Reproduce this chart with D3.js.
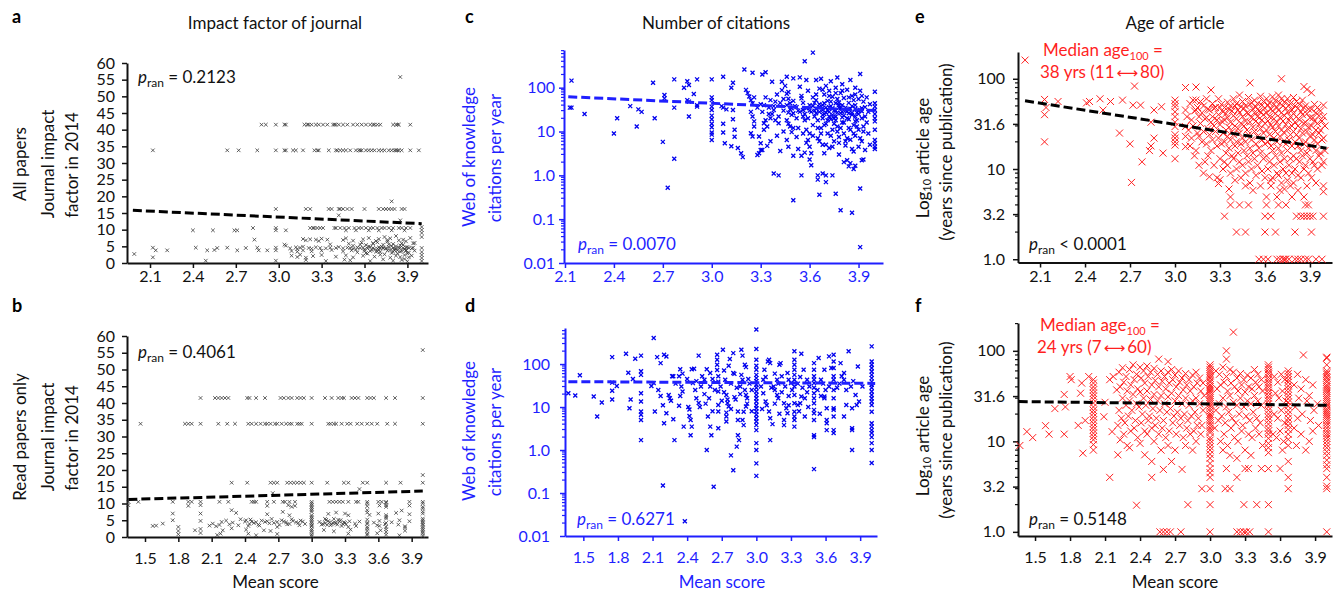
<!DOCTYPE html>
<html>
<head>
<meta charset="utf-8">
<script src="https://cdn.jsdelivr.net/npm/d3@7"></script>
<style>
    body { margin: 0; background: #fff; }
    svg { font-family: Lato, "Open Sans", "DejaVu Sans", sans-serif; }
</style>
</head>
<body>
<div id="chart"></div>
<script>

// ---- tick labels ----
const scoreTicksAll = [2.1, 2.4, 2.7, 3.0, 3.3, 3.6, 3.9];
const scoreTicksRead = [1.5, 1.8, 2.1, 2.4, 2.7, 3.0, 3.3, 3.6, 3.9];
const impactTicks = [0, 5, 10, 15, 20, 25, 30, 35, 40, 45, 50, 55, 60];
const impactTickLabels = ['0', '5', '10', '15', '20', '25', '30', '35', '40', '45', '50', '55', '60'];
const citeTicks = [0.01, 0.1, 1, 10, 100];
const citeTickLabels = ['0.01', '0.1', '1.0', '10', '100'];
const ageTicks = [1, 3.162, 10, 31.62, 100];
const ageTickLabels = ['1.0', '3.2', '10', '31.6', '100'];

// ---- p values and medians ----
const pValues = ['= 0.2123', '= 0.4061', '= 0.0070', '= 0.6271', '< 0.0001', '= 0.5148'];
const medianAll = ['38 yrs (11', '80)'];
const medianRead = ['24 yrs (7', '60)'];

// ---- fitted trend lines, [score, value] at each end ----
const fitImpactAll = [[1.98, 15.8], [4.0, 11.8]];
const fitImpactRead = [[1.35, 11.2], [4.0, 13.7]];
const fitCiteAll = [[2.12, 62], [4.0, 30]];
const fitCiteRead = [[1.37, 39], [4.03, 35.5]];
const fitAgeAll = [[2.0, 57], [4.01, 17]];
const fitAgeRead = [[1.36, 27.5], [4.03, 25]];

// ---- a: all papers, [mean score, journal impact factor] ----
const impactAll = [
    [3.85,55.8],
    [2.88,41.5],[2.91,41.5],[2.98,41.5],[3.04,41.5],[3.05,41.5],[3.18,41.5],[3.20,41.5],[3.21,41.5],[3.23,41.5],[3.26,41.5],[3.28,41.5],[3.31,41.5],[3.34,41.5],[3.38,41.5],[3.39,41.5],[3.40,41.5],[3.42,41.5],[3.45,41.5],[3.48,41.5],[3.52,41.5],[3.55,41.5],[3.58,41.5],[3.61,41.5],[3.64,41.5],[3.66,41.5],[3.67,41.5],[3.69,41.5],[3.71,41.5],[3.80,41.5],[3.82,41.5],[3.83,41.5],[3.84,41.5],[3.92,41.5],
    [2.12,33.8],[2.64,33.8],[2.72,33.8],[2.85,33.8],[2.98,33.8],[3.04,33.8],[3.05,33.8],[3.10,33.8],[3.12,33.8],[3.17,33.8],[3.25,33.8],[3.27,33.8],[3.28,33.8],[3.35,33.8],[3.40,33.8],[3.41,33.8],[3.43,33.8],[3.45,33.8],[3.47,33.8],[3.50,33.8],[3.54,33.8],[3.56,33.8],[3.57,33.8],[3.58,33.8],[3.61,33.8],[3.63,33.8],[3.65,33.8],[3.67,33.8],[3.70,33.8],[3.72,33.8],[3.74,33.8],[3.77,33.8],[3.79,33.8],[3.81,33.8],[3.82,33.8],[3.83,33.8],[3.84,33.8],[3.86,33.8],[3.92,33.8],[3.98,33.8],
    [3.79,18.5],[3.42,14.3],[3.85,12.8],
    [2.98,16.2],[3.19,16.2],[3.22,16.2],[3.35,16.2],[3.37,16.2],[3.42,16.2],[3.43,16.2],[3.45,16.2],[3.48,16.2],[3.51,16.2],[3.60,16.2],[3.70,16.2],[3.73,16.2],[3.75,16.2],[3.77,16.2],[3.79,16.2],[3.81,16.2],[3.86,16.2],[3.88,16.2],
    [2.82,10.5],[2.98,10.5],[3.22,10.5],[3.24,10.5],[3.25,10.5],[3.27,10.5],[3.29,10.5],[3.31,10.5],[3.39,10.5],[3.40,10.5],[3.43,10.5],[3.46,10.5],[3.49,10.5],[3.53,10.5],[3.56,10.5],[3.58,10.5],[3.61,10.5],[3.64,10.5],[3.66,10.5],[3.69,10.5],[3.72,10.5],[3.74,10.5],[3.77,10.5],[3.80,10.5],[3.84,10.5],[3.86,10.5],[3.89,10.5],[3.92,10.5],[4.0,10.8],
    [2.40,9.8],[2.54,9.8],[2.69,9.8],[2.71,9.8],[2.98,9.8],[3.05,9.8],[3.47,9.8],[3.54,9.8],[3.63,9.8],[3.70,9.8],[3.79,9.8],[3.88,9.8],[4.0,9.9],[4.0,9.0],
    [2.83,7.0],[3.17,7.2],[3.19,6.8],[3.22,7.1],[3.26,7.0],[3.28,6.6],[3.30,7.3],[3.34,7.0],[3.45,6.9],[3.47,7.4],[3.52,6.7],[3.59,7.1],[3.63,7.5],[3.68,6.6],[3.70,7.2],[3.74,7.8],[3.76,6.9],[3.78,7.4],[3.82,8.1],[3.87,7.0],[3.89,6.5],[4.0,7.8],
    [3.04,5.5],[3.05,5.2],[3.36,5.6],[3.49,5.8],[3.61,5.4],[3.66,5.9],[3.73,5.5],[3.80,5.7],[3.85,5.3],
    [2.12,4.6],[2.42,4.6],[2.57,4.5],[2.64,4.6],[2.77,4.5],[2.85,4.6],[2.98,4.6],[3.08,4.4],[3.12,4.7],[3.13,4.2],[3.15,4.6],[3.17,4.9],[3.21,4.5],[3.23,4.3],[3.26,4.7],[3.29,4.5],[3.33,4.4],[3.36,4.6],[3.40,4.5],[3.42,4.8],[3.45,4.4],[3.48,4.6],[3.50,4.5],[3.52,4.3],[3.55,4.7],[3.57,4.5],[3.59,4.6],[3.62,4.4],[3.64,4.8],[3.66,4.5],[3.69,4.3],[3.70,4.7],[3.71,4.5],[3.73,4.6],[3.75,4.4],[3.77,4.8],[3.80,4.5],[3.82,4.3],[3.84,4.6],[3.87,4.5],[3.89,4.7],[3.91,4.5],[3.94,4.6],[4.0,4.5],
    [2.14,3.8],[2.22,3.8],[2.50,3.8],[2.55,3.9],[2.71,3.8],[2.86,3.8],[2.92,3.8],[2.98,3.8],[3.09,3.6],[3.13,3.4],[3.17,3.8],[3.23,3.5],[3.30,3.7],[3.37,3.9],[3.45,3.5],[3.51,3.8],[3.60,3.6],[3.65,3.9],[3.69,3.5],[3.76,3.7],[3.81,3.8],[3.85,3.4],[3.89,3.6],[4.0,3.3],
    [2.12,1.7],[3.09,2.2],[3.13,1.8],[3.15,2.5],[3.19,1.6],[3.24,2.1],[3.30,2.4],[3.40,1.9],[3.47,2.3],[3.52,1.7],[3.59,2.2],[3.67,1.9],[3.71,2.5],[3.78,1.6],[3.82,2.2],[3.85,1.8],[3.88,2.4],[3.91,1.7],[4.0,2.4],[4.0,1.5],
    [1.99,2.7],[2.49,0.7],[2.98,0.7],[3.19,0.9],[3.33,0.6],[3.46,1.0],[3.50,0.8],[3.64,0.6],[3.73,1.1],[3.80,0.7],[3.86,0.9],[3.90,0.5],[4.0,0.6],
    [3.52,5.2],[3.55,3.2],[3.58,6.1],[3.62,2.8],[3.66,5.8],[3.68,3.4],[3.72,4.9],[3.74,2.6],[3.76,6.4],[3.78,3.9],[3.79,5.1],[3.81,4.2],[3.83,2.9],[3.84,6.8],[3.86,3.6],[3.87,5.4],[3.88,1.2],[3.90,4.8],[3.91,3.1],[3.92,7.5],[3.93,2.2],[3.94,5.9],[3.95,3.7],[3.60,4.1],[3.64,3.6],[3.70,4.0],[3.75,4.3],[3.80,3.4],[3.85,4.6],[3.89,3.9],
    [3.54,4.0],[3.57,5.5],[3.61,3.0],[3.63,5.0],[3.67,4.2],[3.69,6.2],[3.71,3.3],[3.73,4.4],[3.77,5.6],[3.79,3.0],[3.82,5.0],[3.83,3.8],[3.86,5.9],[3.88,4.1],[3.90,2.9],[3.93,4.4],[3.95,6.0]
];

// ---- b: read papers, [mean score, journal impact factor] ----
const impactRead = [
    [4.0,55.8],[4.0,18.5],[3.43,14.3],[2.65,13.1],
    [2.00,41.5],[2.13,41.5],[2.16,41.5],[2.19,41.5],[2.22,41.5],[2.25,41.5],[2.42,41.5],[2.44,41.5],[2.50,41.5],[2.58,41.5],[2.72,41.5],[2.75,41.5],[2.79,41.5],[2.82,41.5],[2.87,41.5],[2.90,41.5],[2.93,41.5],[3.00,41.5],[3.12,41.5],[3.18,41.5],[3.24,41.5],[3.27,41.5],[3.29,41.5],[3.36,41.5],[3.39,41.5],[3.42,41.5],[3.50,41.5],[3.53,41.5],[3.56,41.5],[3.67,41.5],[3.75,41.5],[4.00,41.5],
    [1.46,33.8],[1.86,33.8],[1.89,33.8],[1.92,33.8],[2.00,33.8],[2.16,33.8],[2.24,33.8],[2.31,33.8],[2.43,33.8],[2.46,33.8],[2.50,33.8],[2.54,33.8],[2.58,33.8],[2.60,33.8],[2.63,33.8],[2.67,33.8],[2.69,33.8],[2.73,33.8],[2.77,33.8],[2.80,33.8],[2.82,33.8],[2.87,33.8],[2.89,33.8],[2.91,33.8],[3.00,33.8],[3.15,33.8],[3.17,33.8],[3.20,33.8],[3.22,33.8],[3.27,33.8],[3.32,33.8],[3.35,33.8],[3.41,33.8],[3.45,33.8],[3.50,33.8],[3.54,33.8],[3.59,33.8],[3.68,33.8],[3.75,33.8],[4.00,33.8],
    [2.28,16.2],[2.42,16.2],[2.63,16.2],[2.66,16.2],[2.69,16.2],[2.78,16.2],[2.81,16.2],[2.84,16.2],[2.87,16.2],[2.90,16.2],[2.93,16.2],[3.00,16.2],[3.14,16.2],[3.29,16.2],[3.33,16.2],[3.46,16.2],[3.50,16.2],[3.67,16.2],[3.80,16.2],[4.00,16.2],
    [1.35,10.5],[1.44,10.5],[1.75,10.5],[1.89,10.5],[1.92,10.5],[2.00,10.5],[2.17,10.5],[2.25,10.5],[2.46,10.5],[2.48,10.5],[2.50,10.5],[2.60,10.5],[2.66,10.5],[2.74,10.5],[2.76,10.5],[2.80,10.5],[2.85,10.5],[3.00,10.5],[3.16,10.5],[3.19,10.5],[3.22,10.5],[3.25,10.5],[3.28,10.5],[3.33,10.5],[3.40,10.5],[3.42,10.5],[3.50,10.5],[3.60,10.5],[3.63,10.5],[3.67,10.5],[3.88,10.5],[4.00,10.5],
    [1.35,9.5],[1.89,9.3],[2.00,9.5],[2.60,9.3],[2.79,9.5],[2.82,9.0],[2.85,9.3],[3.00,9.0],[3.50,9.2],[3.61,9.4],[3.67,9.0],[3.88,9.4],
    [1.75,7.0],[2.00,7.0],[2.28,8.0],[2.32,7.2],[2.60,6.8],[2.74,7.5],[2.80,6.5],[3.00,7.5],[3.00,8.0],[3.15,6.9],[3.22,7.3],[3.30,7.0],[3.33,6.5],[3.50,7.3],[3.52,6.6],[3.60,7.0],[3.67,6.5],[3.76,7.2],[3.81,7.9],[3.88,6.8],[4.00,7.6],[4.00,7.0],
    [1.75,5.0],[2.00,4.8],[2.11,4.0],[2.19,4.5],[2.23,4.9],[2.29,4.3],[2.36,5.3],[2.41,5.0],[2.46,4.6],[2.50,4.4],[2.55,4.9],[2.60,4.7],[2.64,5.4],[2.69,4.5],[2.73,5.0],[2.77,4.4],[2.83,4.8],[2.88,4.2],[2.92,4.6],[3.00,5.0],[3.07,4.5],[3.12,5.4],[3.15,4.8],[3.19,4.2],[3.24,5.1],[3.29,4.4],[3.34,4.7],[3.39,4.0],[3.43,4.6],[3.50,5.2],[3.56,4.3],[3.61,4.8],[3.67,5.5],[3.72,4.4],[3.79,5.0],[3.88,4.7],[4.00,4.5],
    [1.57,3.3],[1.60,3.4],[1.66,4.0],[2.08,3.4],[2.17,3.6],[2.26,3.8],[2.34,3.5],[2.44,3.9],[2.53,3.4],[2.62,4.1],[2.71,3.6],[2.80,3.9],[2.89,3.5],[3.00,4.0],[3.09,3.7],[3.17,3.5],[3.22,4.1],[3.31,3.8],[3.40,3.3],[3.50,3.9],[3.59,3.5],[3.66,3.9],[3.78,3.7],[3.84,3.2],[4.00,3.6],
    [1.80,3.0],[2.14,3.2],[2.43,3.3],[2.69,3.0],[3.00,3.2],[3.27,3.3],[3.33,3.0],[3.61,3.3],[3.84,2.8],
    [1.80,1.8],[1.95,2.0],[2.00,2.4],[2.20,2.0],[2.28,2.6],[2.41,2.2],[2.57,2.0],[2.63,1.8],[3.00,2.0],[3.11,2.1],[3.20,1.7],[3.35,2.2],[3.50,1.8],[3.62,2.0],[3.67,2.3],[3.84,1.9],[4.00,2.0],
    [1.80,0.8],[2.00,1.2],[2.15,0.6],[2.18,1.0],[2.43,1.0],[2.50,0.5],[2.69,0.9],[3.00,0.8],[3.00,0.3],[3.33,1.0],[3.50,0.6],[3.59,1.1],[3.67,0.7],[3.79,0.5],[4.00,1.0],[4.00,0.3],
    [3.00,1.5],[3.00,2.5],[3.00,3.5],[3.00,4.5],[3.00,5.5],[3.00,6.0],[3.00,6.5],[3.00,8.5],[3.00,9.5],[3.00,10.0],
    [4.00,1.5],[4.00,2.5],[4.00,3.0],[4.00,4.0],[4.00,5.0],[4.00,5.5],[4.00,8.5],[4.00,9.0],[4.00,10.0],
    [3.50,1.0],[3.50,2.5],[3.50,3.0],[3.50,4.3],[3.50,8.0],[3.50,10.0],
    [3.67,1.5],[3.67,3.0],[3.67,4.2],[3.67,6.0],[3.67,9.5],[3.67,10.2],
    [3.10,3.9],[3.12,4.1],[3.13,5.1],[3.14,3.6],[3.16,4.4],[3.18,3.8],[3.20,5.4],[3.21,4.3],[3.23,3.7],[3.25,4.6],[3.26,5.0],[3.28,3.9],[3.30,4.2],
    [2.40,4.6],[2.45,5.2],[2.48,4.2],[2.52,3.7],[2.58,4.5],[2.66,4.2],[2.75,4.6],[2.78,3.8],[2.82,5.3],[2.86,4.4],[2.90,4.9],[2.94,3.9]
];

// ---- c: all papers, [mean score, citations per year] ----
const citesAll = [
    [2.14,145],[2.13,35],[2.14,35],[2.22,25],[2.40,9],[2.42,20],[2.50,38],[2.54,13],[2.55,32],[2.57,28],[2.64,130],[2.65,20],[2.70,5.8],[2.71,68],[2.71,57],[2.73,0.52],[2.77,2.4],[2.77,35],[2.77,155],[2.83,100],[2.85,140],[2.86,115],[2.85,52],[2.86,22],[2.86,48],[2.89,72],[2.91,155],[2.91,40],[2.91,37],
    [3.0,155],[3.0,60],[3.0,52],[3.0,37],[3.0,31],[3.0,23],[3.0,19],[3.0,15],[3.0,12.5],[3.0,9.5],[3.0,8.5],[3.0,6.4],
    [3.07,178],[3.06,38],[3.07,35],[3.09,32],[3.07,15],[3.07,9.5],[3.08,5.4],[3.12,100],[3.13,130],[3.13,31],[3.13,19],[3.14,11],[3.14,7.6],[3.12,4.6],[3.16,4.2],[3.18,3.2],[3.19,2.6],
    [3.20,260],[3.25,220],[3.31,200],[3.33,225],[3.57,400],[3.62,630],[3.91,205],
    [3.21,89],[3.22,75],[3.23,63],[3.24,52],[3.25,44],[3.24,28],[3.25,22],[3.26,17],[3.26,13],[3.24,9.1],[3.25,7.7],[3.29,7.7],[3.30,5.4],[3.29,3.2],[3.28,2.9],[3.30,3.8],[3.31,3.8],
    [3.32,15.5],[3.33,18],[3.34,13],[3.32,11],[3.30,42],[3.32,40],[3.36,52],[3.39,48],[3.38,31],[3.36,20],[3.39,18],[3.41,15.5],[3.38,1.1],[3.41,1.0],[3.37,137],[3.43,137],
    [3.43,88],[3.46,73],[3.47,56],[3.48,44],[3.49,34],[3.46,178],[3.50,163],[3.54,172],
    [3.47,27],[3.49,24],[3.46,18],[3.48,13],[3.49,9.7],[3.46,6.4],[3.47,4.5],[3.50,2.8],[3.50,0.27],[3.55,1.0],
    [3.54,105],[3.55,57],[3.56,31],[3.57,18],[3.58,11],[3.59,6.4],[3.60,4.5],[3.61,3.2],[3.61,1.7],[3.60,2.3],[3.55,2.8],[3.66,0.36],[3.65,1.0],[3.65,0.8],[3.68,1.1],[3.70,0.7],[3.70,1.0],[3.74,1.0],[3.76,0.38],[3.79,0.16],[3.86,0.14],[3.87,1.4],[3.88,1.65],[3.81,2.0],[3.84,1.6],[3.83,2.2],[3.85,1.9],[3.93,2.3],[3.92,2.2],[3.91,0.5],[3.91,0.023],
    [4.0,81],[4.0,44],[4.0,37],[4.0,31],[4.0,25],[4.0,20],[4.0,17],[4.0,11],[4.0,6.4],[4.0,5.4],[4.0,4.5],[4.0,4.0],
    [3.33,60],[3.35,35],[3.37,25],[3.40,70],[3.42,45],[3.44,30],[3.45,110],[3.47,80],[3.50,50],[3.51,38],[3.52,20],[3.53,12],[3.55,65],[3.56,45],[3.57,25],[3.58,150],[3.59,85],[3.60,40],[3.61,28],[3.62,14],[3.60,9],[3.58,5.5],[3.52,7.5],[3.44,10],[3.40,8],[3.36,6],[3.34,4.7],[3.42,3.6],[3.53,4],[3.57,3.3],
    [3.62,60],[3.63,45],[3.63,22],[3.64,150],[3.64,33],[3.65,18],[3.65,7],[3.66,95],[3.66,28],[3.67,12],[3.67,160],[3.68,40],[3.68,5],[3.69,70],[3.69,25],[3.69,3.2],[3.70,110],[3.70,35],[3.70,15],[3.71,50],[3.71,9],[3.72,85],[3.72,28],[3.72,4.2],[3.73,140],[3.73,38],[3.73,19],[3.74,62],[3.74,11],[3.75,30],[3.75,6],[3.76,100],[3.76,44],[3.76,22],[3.77,170],[3.77,55],[3.77,13],[3.78,35],[3.78,7.5],[3.78,3],[3.79,75],[3.79,26],[3.80,120],[3.80,40],[3.80,16],[3.81,9],[3.81,58],[3.82,30],[3.82,4.8],[3.83,90],[3.83,20],[3.84,45],[3.84,12],[3.85,150],[3.85,33],[3.85,6.5],[3.86,65],[3.86,24],[3.87,14],[3.87,3.5],[3.88,100],[3.88,40],[3.88,8],[3.89,27],[3.89,18],[3.90,55],[3.90,11],[3.91,85],[3.91,31],[3.92,6],[3.92,20],[3.93,48],[3.93,13],[3.94,36],[3.94,3.8],[3.95,60],[3.95,16],[3.96,28],[3.96,9],[3.97,42],[3.97,5],
    [3.64,52],[3.66,36],[3.68,24],[3.71,31],[3.73,48],[3.75,20],[3.77,27],[3.79,34],[3.81,23],[3.83,29],[3.86,38],[3.88,22],[3.90,30],[3.92,34],[3.63,30],[3.69,44],[3.74,34],[3.78,46],[3.84,26],[3.87,52],
    [3.46,40],[3.48,32],[3.50,26],[3.52,36],[3.54,28],[3.56,22],[3.58,34],[3.60,30],[3.62,38],[3.64,26],[3.66,42],[3.68,31],[3.70,27],[3.72,36],[3.74,24],[3.76,30],[3.78,40],[3.80,28],[3.82,35],[3.84,32],[3.86,27],[3.88,33],[3.90,25],[3.92,29],[3.94,22],
    [3.65,12],[3.67,9],[3.69,14],[3.71,18],[3.73,8],[3.75,15],[3.77,10],[3.79,12],[3.81,16],[3.83,7],[3.85,11],[3.87,9],[3.89,13],[3.91,7],[3.93,10],
    [3.62,8],[3.66,6],[3.70,5],[3.74,4.5],[3.78,5.5],[3.82,6],[3.86,4],[3.90,4.5],[3.68,20],[3.72,22],[3.76,18],[3.80,21],[3.84,19],[3.88,17],
    [3.64,70],[3.68,90],[3.72,65],[3.76,75],[3.80,85],[3.84,60],[3.88,70],[3.92,65],
    [3.35,25],[3.38,38],[3.41,22],[3.44,55],[3.47,15],[3.50,12],[3.53,30],[3.56,9],[3.59,20],[3.31,28],[3.28,35],[3.26,60]
];

// ---- d: read papers, [mean score, citations per year] ----
const citesRead = [
    [1.37,21],[1.43,18.5],[1.47,55],[1.59,17.6],[1.62,6],[1.66,12.7],[1.75,145],[1.75,37],[1.75,24],[1.75,15],[1.79,31],[1.87,174],[1.89,63],[1.90,9.4],[1.91,15],[1.93,45],[1.95,133],
    [2.0,157],[2.0,68],[2.0,56],[2.0,21],[2.0,13.4],[2.0,7.9],[2.0,6.6],[2.0,5.0],[2.0,1.7],
    [2.11,405],[2.09,31],[2.11,36],[2.12,7.9],[2.14,145],[2.15,25],[2.17,18],[2.17,105],[2.20,165],[2.22,150],[2.19,11],[2.20,4.2],[2.19,0.15],[2.22,7.2],[2.24,19],[2.25,16],[2.26,14],[2.27,52],[2.28,52],[2.28,5.2],[2.29,1.7],
    [2.33,52],[2.34,76],[2.35,30],[2.36,23],[2.33,10.7],[2.34,18],[2.37,3.5],[2.41,10],[2.42,8.8],[2.42,6.2],[2.43,5],[2.44,3.5],[2.43,2.2],[2.44,76],[2.46,78],[2.45,36],[2.47,25],[2.48,16],[2.50,12.4],[2.51,10],[2.50,157],[2.53,52],[2.55,43],[2.57,76],[2.60,62],[2.57,1.0],[2.63,0.14],[2.58,6],[2.60,3.5],[2.61,2.2],[2.59,16],[2.60,30],
    [2.66,165],[2.66,126],[2.66,96],[2.66,73],[2.67,52],[2.67,39],[2.67,23],[2.67,11.2],[2.67,7.9],[2.67,3.2],
    [2.71,215],[2.72,71],[2.73,43],[2.74,19],[2.75,15],[2.75,12.4],[2.76,10.3],[2.74,7.4],[2.74,6.0],[2.74,4.6],[2.78,0.75],[2.80,0.34],[2.80,180],[2.77,131],[2.76,91],[2.80,62],[2.81,59],[2.81,17],[2.82,15],[2.84,7.9],[2.84,5],[2.84,2.2],[2.85,1.7],[2.83,1.2],
    [2.87,215],[2.88,157],[2.90,96],[2.91,85],[2.87,56],[2.88,43],[2.90,25],[2.91,19],[2.92,16],[2.91,10.3],[2.89,7.8],[2.88,5],[2.89,3.8],[2.92,12],[2.86,30],[2.94,35],
    [3.0,635],[3.0,224],[3.0,126],[3.0,91],[3.0,74],[3.0,56],[3.0,47],[3.0,40],[3.0,33],[3.0,28],[3.0,23],[3.0,19],[3.0,16],[3.0,13.4],[3.0,11],[3.0,9.4],[3.0,7.9],[3.0,6.6],[3.0,5.5],[3.0,4.6],[3.0,3.8],[3.0,2.9],[3.0,1.45],[3.0,1.0],[3.0,0.49],[3.0,0.25],
    [3.06,43],[3.07,74],[3.10,115],[3.11,126],[3.12,105],[3.06,21],[3.08,13.4],[3.09,11],[3.11,7.9],[3.12,5.5],[3.14,4.0],[3.12,1.7],
    [3.15,30],[3.16,25],[3.18,19],[3.19,16],[3.18,43],[3.21,105],[3.20,96],[3.22,52],[3.24,12.3],[3.26,9.4],[3.27,7.2],[3.24,5.0],[3.24,3.8],[3.27,62],[3.28,43],[3.30,36],
    [3.33,198],[3.33,126],[3.33,96],[3.33,74],[3.33,56],[3.33,43],[3.33,30],[3.33,19],[3.33,12.3],[3.33,7.8],[3.33,6.0],[3.33,5.0],[3.33,3.5],
    [3.36,11.2],[3.38,12.3],[3.39,17.6],[3.41,74],[3.39,174],[3.42,16],[3.42,6.0],[3.44,43],
    [3.5,105],[3.5,74],[3.5,52],[3.5,43],[3.5,36],[3.5,28],[3.5,21],[3.5,16],[3.5,12.3],[3.5,8.6],[3.5,7.2],[3.5,5.0],[3.5,2.2],[3.5,2.0],[3.5,0.36],
    [3.54,138],[3.56,43],[3.59,74],[3.59,17.6],[3.59,16],[3.60,25],[3.61,9.4],[3.61,5.0],[3.61,4.2],[3.61,2.9],
    [3.67,165],[3.67,115],[3.67,81],[3.67,52],[3.67,43],[3.67,25],[3.67,16],[3.67,9.4],[3.67,8.6],[3.67,6.0],[3.67,2.9],[3.67,2.5],
    [3.63,151],[3.65,81],[3.73,105],[3.74,52],[3.76,62],[3.76,43],[3.76,6.0],[3.78,11.2],
    [3.80,198],[3.82,30],[3.83,9.4],[3.83,3.2],[3.83,2.9],[3.83,1.0],[3.86,19],[3.87,11.2],[3.88,88],[3.89,13.4],
    [4.0,258],[4.0,115],[4.0,96],[4.0,81],[4.0,67],[4.0,56],[4.0,47],[4.0,39],[4.0,33],[4.0,28],[4.0,23],[4.0,19],[4.0,16],[4.0,13.4],[4.0,11.2],[4.0,7.8],[4.0,4.2],[4.0,3.5],[4.0,2.9],[4.0,2.5],[4.0,2.0],[4.0,1.45],[4.0,1.0],[4.0,0.5],
    [2.38,0.022],
    [2.48,40],[2.52,30],[2.55,20],[2.62,45],[2.64,25],[2.69,30],[2.72,22],[2.78,35],[2.83,28],[2.86,20],[2.93,45],[2.96,25],[3.04,30],[3.08,50],[3.13,28],[3.16,60],[3.19,35],[3.22,22],[3.25,30],[3.28,18],[3.31,25],[3.36,35],[3.38,50],[3.40,28],[3.44,22],[3.46,30],[3.53,25],[3.56,18],[3.58,35],[3.63,30],[3.70,28],[3.72,35],[3.78,25],[3.84,40],[3.92,30],[2.40,45],[2.36,60],[2.30,35],
    [2.56,12],[2.62,8],[2.70,14],[2.78,9],[2.96,8],[3.05,9],[3.16,12],[3.20,7],[3.28,11],[3.37,8],[3.45,10],[3.55,7]
];

// ---- e: all papers, [mean score, article age in years] ----
const ageAll = [
    [2.00,161],[2.13,59],[2.13,40],[2.13,20],[2.14,48],[2.22,56],[2.41,54],[2.43,56],[2.50,60],[2.52,45],[2.57,56],[2.63,25],[2.65,58],[2.70,19],[2.71,7.1],[2.73,83],[2.72,51],[2.77,51],[2.78,12],[2.84,33],[2.86,45],[2.83,16],[2.84,18],[2.86,22],[2.91,49],[2.92,15],
    [3.00,58],[3.00,53],[3.00,49],[3.00,43],[3.00,38],[3.00,33],[3.00,29.5],[3.00,24],[3.00,22],[3.00,20],[3.00,18.4],[3.00,13],
    [3.07,80],[3.07,45],[3.08,38],[3.07,29.5],[3.07,23],[3.07,17.7],[3.14,81],[3.14,58],[3.14,45],[3.16,23],[3.24,75],[3.50,90],[3.71,100],[3.86,82],[3.88,76],[3.91,70],[3.99,51],
    [3.37,4.9],[3.37,4.0],[3.43,4.0],[3.49,4.0],[3.61,4.9],[3.61,4.0],[3.68,4.9],[3.69,4.0],[3.74,4.0],[3.78,4.9],[3.86,4.9],[3.87,4.0],[3.89,4.0],
    [3.33,3.0],[3.60,3.0],[3.64,3.0],[3.81,3.0],[3.84,3.0],[3.86,3.0],[3.88,3.0],[3.90,3.0],[3.92,3.0],[3.99,3.0],
    [3.41,2.0],[3.47,2.0],[3.60,2.0],[3.67,2.0],[3.80,2.0],[3.91,2.0],
    [3.56,1.0],[3.59,1.0],[3.62,1.0],[3.68,1.0],[3.70,1.0],[3.72,1.0],[3.73,1.0],[3.74,1.0],[3.76,1.0],[3.80,1.0],[3.82,1.0],[3.84,1.0],[3.87,1.0],[3.89,1.0],[3.94,1.0],[3.98,1.0],
    [3.23,8.2],[3.29,6.9],[3.30,7.6],[3.47,6.5],[3.52,5.8],[3.57,6.5],[3.64,6.5],[3.70,5.8],[3.77,6.5],[3.82,5.8],[3.88,6.5],[3.99,6.5],[3.99,5.6],
    [3.10,53],[3.11,35],[3.09,27],[3.10,18],
    [3.12,58],[3.13,44],[3.12,30],[3.11,22],[3.13,14],
    [3.15,48],[3.16,38],[3.15,25],[3.14,16],[3.16,11],
    [3.17,56],[3.18,42],[3.17,32],[3.18,20],
    [3.19,50],[3.20,36],[3.19,26],[3.20,12],[3.19,9],
    [3.21,60],[3.22,46],[3.21,37],[3.22,28],[3.21,19],[3.22,14],
    [3.23,45],[3.24,33],[3.23,24],
    [3.25,53],[3.26,47],[3.25,38],[3.26,30],[3.25,21],[3.24,16],[3.26,11],
    [3.27,48],[3.28,35],[3.27,26],[3.28,18],
    [3.29,60],[3.30,48],[3.29,40],[3.30,31],[3.29,22],[3.30,13],[3.28,8],
    [3.31,52],[3.32,43],[3.31,34],[3.32,25],[3.31,19],[3.32,10],
    [3.33,48],[3.34,41],[3.33,35],[3.34,27],[3.33,20],[3.34,15],[3.33,12],
    [3.35,55],[3.36,46],[3.35,37],[3.36,29],[3.35,23],[3.36,17],[3.35,11],[3.36,6],
    [3.37,50],[3.38,44],[3.37,33],[3.38,26],[3.37,21],[3.38,14],[3.37,9],
    [3.39,60],[3.40,50],[3.39,39],[3.40,30],[3.39,24],[3.40,18],[3.39,13],[3.40,7.5],
    [3.41,53],[3.42,45],[3.41,36],[3.42,28],[3.41,20],[3.42,15],[3.41,10],
    [3.43,66],[3.44,49],[3.43,42],[3.44,32],[3.43,25],[3.44,19],[3.43,12],[3.44,8],
    [3.45,56],[3.46,47],[3.45,38],[3.46,30],[3.45,22],[3.46,16],[3.45,11],
    [3.47,50],[3.48,42],[3.47,34],[3.48,27],[3.47,20],[3.48,14],[3.47,9],
    [3.49,62],[3.50,52],[3.49,41],[3.50,33],[3.49,24],[3.50,17],[3.49,12],[3.50,7],
    [3.51,54],[3.52,46],[3.51,37],[3.52,29],[3.51,21],[3.52,15],[3.51,10],
    [3.53,58],[3.54,49],[3.53,42],[3.54,34],[3.53,26],[3.54,19],[3.53,13],[3.54,8.5],
    [3.55,53],[3.56,44],[3.55,38],[3.56,31],[3.55,23],[3.56,17],[3.55,11],
    [3.57,64],[3.58,51],[3.57,43],[3.58,35],[3.57,28],[3.58,21],[3.57,15],[3.58,9.5],
    [3.59,56],[3.60,47],[3.59,40],[3.60,32],[3.59,25],[3.60,19],[3.59,13],[3.60,8],
    [3.61,60],[3.62,51],[3.61,42],[3.62,34],[3.61,27],[3.62,20],[3.61,14],[3.62,10],
    [3.63,54],[3.64,46],[3.63,38],[3.64,31],[3.63,24],[3.64,18],[3.63,12],[3.64,7.5],
    [3.65,63],[3.66,52],[3.65,44],[3.66,36],[3.65,29],[3.66,22],[3.65,16],[3.66,11],[3.65,8],
    [3.67,57],[3.68,48],[3.67,41],[3.68,33],[3.67,26],[3.68,20],[3.67,14],[3.68,9],
    [3.69,66],[3.70,54],[3.69,45],[3.70,37],[3.69,30],[3.70,23],[3.69,17],[3.70,12],[3.69,8.5],
    [3.71,60],[3.72,50],[3.71,42],[3.72,34],[3.71,27],[3.72,20],[3.71,15],[3.72,10],[3.71,7],
    [3.73,55],[3.74,47],[3.73,39],[3.74,31],[3.73,25],[3.74,19],[3.73,13],[3.74,9],[3.73,6],
    [3.75,60],[3.76,51],[3.75,43],[3.76,35],[3.75,28],[3.76,21],[3.75,16],[3.76,11],[3.75,7.5],
    [3.77,53],[3.78,45],[3.77,38],[3.78,30],[3.77,24],[3.78,18],[3.77,13],[3.78,9],
    [3.79,62],[3.80,50],[3.79,41],[3.80,33],[3.79,26],[3.80,20],[3.79,14],[3.80,10],[3.79,7],
    [3.81,56],[3.82,47],[3.81,38],[3.82,30],[3.81,24],[3.82,18],[3.81,13],[3.82,8.5],
    [3.83,52],[3.84,43],[3.83,35],[3.84,28],[3.83,22],[3.84,16],[3.83,12],[3.84,8],
    [3.85,58],[3.86,48],[3.85,40],[3.86,32],[3.85,25],[3.86,19],[3.85,14],[3.86,10],
    [3.87,50],[3.88,41],[3.87,33],[3.88,26],[3.87,20],[3.88,15],[3.87,11],
    [3.89,46],[3.90,37],[3.89,29],[3.90,23],[3.89,17],[3.90,13],[3.89,9],
    [3.91,46],[3.92,37],[3.91,30],[3.92,24],[3.91,18],[3.92,12],[3.91,8],
    [3.93,52],[3.94,42],[3.93,34],[3.94,27],[3.93,21],[3.94,16],[3.93,11],[3.94,7],
    [3.95,48],[3.96,39],[3.95,32],[3.96,25],[3.95,19],[3.96,14],[3.95,10],
    [3.97,44],[3.98,34],[3.97,27],[3.98,21],[3.97,15],[3.98,11],
    [3.99,38],[4.00,30],[3.99,22],[4.00,16],[3.99,12]
];

// ---- f: read papers, [mean score, article age in years] ----
const ageRead = [
    [1.37,9],[1.43,12.8],[1.48,11],[1.59,14.9],[1.62,12],[1.67,23],[1.75,12],[1.75,33],[1.76,24],[1.80,52],[1.81,48],[1.87,15],[1.89,34],[1.91,7.4],[1.93,17],[1.90,44],[1.96,52],
    [2.00,48],[2.00,40],[2.00,34],[2.00,29],[2.00,24],[2.00,20.4],[2.00,17.2],[2.00,14.5],[2.00,12.3],[2.00,10.4],[2.00,8.0],
    [2.00,44],[2.00,37],[2.00,31.5],[2.00,26.5],[2.00,22],[2.00,18.7],[2.00,15.8],[2.00,13.4],[2.00,11.3],[2.00,9.2],
    [2.10,27],[2.09,18.7],[2.14,4.0],[2.14,48],[2.17,52],[2.20,37],[2.16,12.8],[2.23,10.4],[2.21,7.1],
    [2.37,1.97],[2.44,7.1],[2.50,6.0],[2.50,4.0],[2.56,81],[2.60,4.9],[2.67,6.0],[2.76,4.9],[2.64,76],
    [2.57,1.0],[2.60,1.0],[2.63,1.0],[2.66,1.0],[2.75,1.0],[3.00,1.0],[3.23,1.0],[3.26,1.0],[3.29,1.0],[3.31,1.0],[3.34,1.0],[3.50,1.0],[4.00,1.0],
    [2.81,2.0],[3.00,2.0],[3.29,2.0],[3.40,2.0],[3.50,2.0],
    [2.93,3.0],[3.00,3.0],[3.13,3.0],[3.17,3.0],[3.67,3.0],[4.00,3.0],
    [3.23,4.0],[3.67,4.0],[4.00,4.0],
    [3.00,5.0],[3.14,5.0],[3.30,5.0],[3.33,5.0],[3.44,5.0],[3.50,5.0],[3.60,5.0],[4.00,5.0],
    [3.20,161],[3.14,100],[3.14,81],[3.80,90],[4.00,83],
    [2.22,58],[2.23,40],[2.22,22],[2.21,15],
    [2.25,65],[2.26,45],[2.25,30],[2.24,18],[2.26,12],
    [2.28,52],[2.29,36],[2.28,25],[2.27,16],[2.29,9],
    [2.31,62],[2.32,42],[2.31,28],[2.30,19],[2.32,13],[2.31,8.5],
    [2.34,70],[2.35,48],[2.34,33],[2.33,22],[2.35,14],
    [2.37,55],[2.38,38],[2.37,26],[2.36,17],[2.38,11],
    [2.40,66],[2.41,50],[2.40,35],[2.39,24],[2.41,16],[2.40,9.5],
    [2.43,60],[2.44,44],[2.43,30],[2.42,20],[2.44,13],
    [2.46,68],[2.47,52],[2.46,36],[2.45,25],[2.47,17],[2.46,12],
    [2.49,58],[2.50,42],[2.49,29],[2.48,19],[2.50,14],
    [2.52,64],[2.53,47],[2.52,33],[2.51,23],[2.53,15],[2.52,10],
    [2.55,55],[2.56,40],[2.55,28],[2.54,18],[2.56,12],
    [2.58,60],[2.59,46],[2.58,32],[2.57,22],[2.59,14],[2.58,8],
    [2.61,52],[2.62,38],[2.61,26],[2.60,17],[2.62,11],
    [2.64,58],[2.65,44],[2.64,31],[2.63,21],[2.65,13],[2.64,9],
    [2.67,62],[2.68,48],[2.67,34],[2.66,23],[2.68,16],
    [2.70,54],[2.71,40],[2.70,28],[2.69,19],[2.71,12],[2.70,8],
    [2.73,60],[2.74,45],[2.73,32],[2.72,21],[2.74,15],
    [2.76,50],[2.77,37],[2.76,26],[2.75,18],[2.77,11],
    [2.79,56],[2.80,42],[2.79,30],[2.78,20],[2.80,14],[2.79,9],
    [2.82,48],[2.83,36],[2.82,25],[2.81,17],[2.83,12],
    [2.85,54],[2.86,40],[2.85,28],[2.84,19],[2.86,13],[2.85,8],
    [2.88,58],[2.89,44],[2.88,30],[2.87,21],[2.89,15],[2.88,10],
    [2.91,50],[2.92,36],[2.91,26],[2.90,18],[2.92,12],
    [2.94,44],[2.95,32],[2.94,22],[2.93,15],
    [3.00,70],[3.00,62],[3.00,56],[3.00,50],[3.00,45],[3.00,40],[3.00,36],[3.00,32],[3.00,29],[3.00,26],[3.00,23],[3.00,20],[3.00,18],[3.00,16],[3.00,14],[3.00,12.5],[3.00,11],[3.00,9.5],[3.00,8],[3.00,6.5],[3.00,4],
    [3.00,66],[3.00,59],[3.00,53],[3.00,47],[3.00,42],[3.00,38],[3.00,34],[3.00,30.5],[3.00,27.5],[3.00,24.5],[3.00,21.5],[3.00,19],[3.00,17],[3.00,15],[3.00,13.2],[3.00,10.3],[3.00,8.7],[3.00,7.2],[3.00,5.7],[3.00,4.5],
    [3.05,60],[3.06,38],[3.05,22],[3.04,14],
    [3.08,55],[3.09,42],[3.08,26],[3.07,17],[3.09,10],
    [3.11,66],[3.12,45],[3.11,30],[3.10,19],[3.12,12],[3.11,8],
    [3.14,52],[3.15,36],[3.14,24],[3.13,16],[3.15,9],
    [3.17,62],[3.18,44],[3.17,32],[3.16,21],[3.18,14],[3.17,7],
    [3.20,58],[3.21,40],[3.20,27],[3.19,18],[3.21,11],
    [3.23,50],[3.24,36],[3.23,25],[3.22,16],[3.24,10],[3.23,6.5],
    [3.26,56],[3.27,42],[3.26,30],[3.25,20],[3.27,13],
    [3.29,48],[3.30,35],[3.29,24],[3.28,15],[3.30,8],
    [3.32,54],[3.33,40],[3.32,28],[3.31,19],[3.33,12],
    [3.35,50],[3.36,38],[3.35,26],[3.34,17],[3.36,11],[3.35,7],
    [3.38,62],[3.39,45],[3.38,32],[3.37,21],[3.39,14],
    [3.41,55],[3.42,40],[3.41,28],[3.40,18],[3.42,12],
    [3.44,48],[3.45,36],[3.44,25],[3.43,16],[3.45,9],
    [3.50,70],[3.50,62],[3.50,55],[3.50,48],[3.50,42],[3.50,37],[3.50,32],[3.50,28],[3.50,24],[3.50,20],[3.50,17],[3.50,14],[3.50,12],[3.50,9.5],[3.50,7.5],
    [3.50,66],[3.50,58],[3.50,51],[3.50,45],[3.50,39.5],[3.50,34.5],[3.50,30],[3.50,26],[3.50,22],[3.50,18.5],[3.50,15.5],[3.50,13],[3.50,10.8],[3.50,8.5],
    [3.55,52],[3.56,34],[3.55,20],[3.54,12],
    [3.58,45],[3.59,30],[3.58,18],[3.57,11],
    [3.61,55],[3.62,36],[3.61,22],[3.60,13],[3.62,8],
    [3.64,48],[3.65,28],[3.64,16],[3.63,10],
    [3.67,60],[3.67,52],[3.67,45],[3.67,38],[3.67,32],[3.67,27],[3.67,22],[3.67,18],[3.67,15],[3.67,12],[3.67,9],[3.67,6],
    [3.67,56],[3.67,48],[3.67,41],[3.67,35],[3.67,29.5],[3.67,24.5],[3.67,20],[3.67,16.5],[3.67,13.5],[3.67,10.5],
    [3.72,42],[3.73,24],[3.72,14],
    [3.75,55],[3.76,30],[3.75,18],[3.74,9],
    [3.78,38],[3.79,20],[3.78,12],
    [3.82,48],[3.83,28],[3.82,8],
    [3.85,32],[3.86,17],[3.85,10],
    [3.88,42],[3.89,22],[3.88,13],
    [3.92,26],[3.93,15],
    [4.00,85],[4.00,60],[4.00,55],[4.00,50],[4.00,45],[4.00,40],[4.00,36],[4.00,32],[4.00,29],[4.00,26],[4.00,23],[4.00,21],[4.00,19],[4.00,17],[4.00,15],[4.00,13],[4.00,11.5],[4.00,10],[4.00,8.5],[4.00,7],[4.00,5.5],
    [4.00,70],[4.00,57],[4.00,52],[4.00,47],[4.00,42],[4.00,38],[4.00,34],[4.00,30.5],[4.00,27.5],[4.00,24.5],[4.00,22],[4.00,20],[4.00,18],[4.00,16],[4.00,14],[4.00,12.2],[4.00,10.8],[4.00,9.2],[4.00,7.7],[4.00,6.2],[4.00,3.2]
];


const BLUE = '#1f1fff';
const RED = '#ff1f1f';

class ScatterPanel {

    constructor(svg, config, points, fitLine) {
        this.svg = svg;
        this.config = config;
        this.points = points;
        this.fitLine = fitLine;

        this.initVis();
    }

    initVis() {
        let vis = this;
        let c = vis.config;

        vis.g = vis.svg.append('g').attr('class', 'panel-' + c.letter);

        vis.x = d3.scaleLinear()
            .domain(c.xDomain)
            .range([c.left, c.right]);

        vis.y = (c.log ? d3.scaleLog() : d3.scaleLinear())
            .domain(c.yDomain)
            .range([c.bottom, c.top]);

        // x axis
        vis.g.append('g')
            .attr('transform', `translate(0, ${c.bottom})`)
            .call(d3.axisBottom(vis.x)
                .tickValues(c.xTicks)
                .tickFormat(d3.format('.1f'))
                .tickSize(5)
                .tickSizeOuter(0)
                .tickPadding(c.xPad))
            .call(g => vis.styleAxis(g));

        // minor ticks for the log axes
        if (c.log) {
            let minor = [];
            for (let e = -3; e <= 3; e++) {
                for (let k = 2; k < 10; k++) {
                    let v = k * Math.pow(10, e);
                    if (v > c.yDomain[0] && v < c.yDomain[1]) minor.push(v);
                }
            }
            vis.g.selectAll('.minor-ticks')
                .data(minor)
                .enter()
                .append('line')
                .attr('class', 'minor-ticks')
                .attr('x1', c.left - 3)
                .attr('x2', c.left)
                .attr('y1', d => vis.y(d))
                .attr('y2', d => vis.y(d))
                .attr('stroke', c.axisColor)
                .attr('stroke-width', 1.2);
        }

        // y axis
        vis.g.append('g')
            .attr('transform', `translate(${c.left}, 0)`)
            .call(d3.axisLeft(vis.y)
                .tickValues(c.yTicks)
                .tickFormat((d, i) => c.yLabels[i])
                .tickSize(5)
                .tickSizeOuter(0)
                .tickPadding(c.yPad))
            .call(g => vis.styleAxis(g));

        // markers
        let r = c.markSize;
        vis.g.append('g')
            .selectAll('path')
            .data(vis.points)
            .enter()
            .append('path')
            .attr('transform', d => `translate(${vis.x(d[0])}, ${vis.y(d[1])})`)
            .attr('d', `M${-r},${-r}L${r},${r}M${-r},${r}L${r},${-r}`)
            .attr('fill', 'none')
            .attr('stroke', c.markColor)
            .attr('stroke-width', c.markWidth);

        // dashed trend line
        const line = d3.line()
            .x(d => vis.x(d[0]))
            .y(d => vis.y(d[1]));

        vis.g.append('path')
            .datum(vis.fitLine)
            .attr('d', line)
            .attr('fill', 'none')
            .attr('stroke', c.fitColor)
            .attr('stroke-width', 3)
            .attr('stroke-dasharray', '9,4');

        // p value
        let p = vis.g.append('text')
            .attr('x', c.pPos[0])
            .attr('y', c.pPos[1])
            .attr('fill', c.textColor)
            .style('font-size', '17px');
        p.append('tspan').style('font-style', 'italic').text('p');
        p.append('tspan').attr('dy', 4).style('font-size', '12px').text('ran');
        p.append('tspan').attr('dy', -4).text(' ' + c.pText);

        // panel letter
        vis.g.append('text')
            .attr('x', c.letterPos[0])
            .attr('y', c.letterPos[1])
            .style('font-size', '18px')
            .style('font-weight', 'bold')
            .text(c.letter);

        // rotated y labels
        c.yTitles.forEach(t => {
            let txt = vis.g.append('text')
                .attr('transform', `translate(${t.x}, ${t.y}) rotate(-90)`)
                .attr('text-anchor', 'middle')
                .attr('dominant-baseline', 'central')
                .attr('fill', t.color)
                .style('font-size', '17px');
            if (t.sub) {
                txt.append('tspan').text(t.text[0]);
                txt.append('tspan').attr('dy', 4).style('font-size', '11px').text(t.sub);
                txt.append('tspan').attr('dy', -4).text(t.text[1]);
            } else {
                txt.text(t.text);
            }
        });

        if (c.xTitle) {
            vis.g.append('text')
                .attr('x', (c.left + c.right) / 2 + c.xTitleShift)
                .attr('y', 588)
                .attr('text-anchor', 'middle')
                .attr('fill', c.textColor === BLUE ? BLUE : '#111')
                .style('font-size', '17px')
                .text('Mean score');
        }
    }

    styleAxis(g) {
        let c = this.config;
        g.select('.domain').attr('stroke', c.axisColor).attr('stroke-width', 2);
        g.selectAll('.tick line').attr('stroke', c.axisColor).attr('stroke-width', 1.5);
        g.selectAll('.tick text')
            .attr('fill', c.labelColor)
            .style('font-size', '16px')
            .style('font-family', 'Lato, "Open Sans", sans-serif');
    }
}

const svg = d3.select('#chart')
    .append('svg')
    .attr('width', 1340)
    .attr('height', 592);

svg.append('rect').attr('width', 1340).attr('height', 592).attr('fill', '#fff');

// column titles
[['Impact factor of journal', 275], ['Number of citations', 716], ['Age of article', 1175]].forEach(t => {
    svg.append('text')
        .attr('x', t[1])
        .attr('y', 29)
        .attr('text-anchor', 'middle')
        .attr('fill', '#111')
        .style('font-size', '17px')
        .text(t[0]);
});

const impactTitles = (cy, rowLabel) => [
    {text: rowLabel, x: 19, y: cy, color: '#111'},
    {text: 'Journal impact', x: 47, y: cy, color: '#111'},
    {text: 'factor in 2014', x: 71, y: cy + 1, color: '#111'}
];
const citeTitles = cy => [
    {text: 'Web of knowledge', x: 468, y: cy, color: BLUE},
    {text: 'citations per year', x: 494, y: cy + 1, color: BLUE}
];
const ageTitles = cy => [
    {text: ['Log', ' article age'], sub: '10', x: 922, y: cy + 6, color: '#111'},
    {text: '(years since publication)', x: 945, y: cy, color: '#111'}
];

const grey = {axisColor: '#111', labelColor: '#111', textColor: '#111', markColor: '#3a3a3a', markWidth: 0.8, markSize: 1.8, fitColor: '#000'};
const blue = {axisColor: BLUE, labelColor: BLUE, textColor: BLUE, markColor: '#0000ee', markWidth: 1.3, markSize: 2, fitColor: BLUE};
const red = {axisColor: '#111', labelColor: '#111', textColor: '#111', markColor: RED, markWidth: 1, markSize: 3.5, fitColor: '#000'};

new ScatterPanel(svg, Object.assign({}, grey, {
    letter: 'a', letterPos: [12, 23], left: 127, right: 428, top: 63, bottom: 263,
    xDomain: [1.939, 4.044], yDomain: [0, 60], log: false,
    xTicks: scoreTicksAll, yTicks: impactTicks, yLabels: impactTickLabels, xPad: 3, yPad: 7,
    pPos: [138, 83], pText: pValues[0], yTitles: impactTitles(164, 'All papers'), xTitle: false
}), impactAll, fitImpactAll);

new ScatterPanel(svg, Object.assign({}, grey, {
    letter: 'b', letterPos: [12, 312], left: 127, right: 428, top: 336, bottom: 537,
    xDomain: [1.338, 4.047], yDomain: [0, 60], log: false,
    xTicks: scoreTicksRead, yTicks: impactTicks, yLabels: impactTickLabels, xPad: 11, yPad: 7,
    pPos: [138, 358], pText: pValues[1], yTitles: impactTitles(437, 'Read papers only'), xTitle: true, xTitleShift: -2
}), impactRead, fitImpactRead);

new ScatterPanel(svg, Object.assign({}, blue, {
    letter: 'c', letterPos: [465, 23], left: 564, right: 883, top: 50, bottom: 263,
    xDomain: [2.094, 4.05], yDomain: [0.01, 724], log: true,
    xTicks: scoreTicksAll, yTicks: citeTicks, yLabels: citeTickLabels, xPad: 3, yPad: 4,
    pPos: [578, 250], pText: pValues[2], yTitles: citeTitles(157), xTitle: false
}), citesAll, fitCiteAll);

new ScatterPanel(svg, Object.assign({}, blue, {
    letter: 'd', letterPos: [465, 312], left: 565, right: 877, top: 328, bottom: 536,
    xDomain: [1.341, 4.046], yDomain: [0.01, 690], log: true,
    xTicks: scoreTicksRead, yTicks: citeTicks, yLabels: citeTickLabels, xPad: 11, yPad: 10,
    pPos: [577, 525], pText: pValues[3], yTitles: citeTitles(431), xTitle: true, xTitleShift: 1
}), citesRead, fitCiteRead);

new ScatterPanel(svg, Object.assign({}, red, {
    letter: 'e', letterPos: [915, 23], left: 1018, right: 1332, top: 52, bottom: 262.5,
    xDomain: [1.953, 4.047], yDomain: [0.92, 198], log: true,
    xTicks: scoreTicksAll, yTicks: ageTicks, yLabels: ageTickLabels, xPad: 3, yPad: 8,
    pPos: [1029, 250], pText: pValues[4], yTitles: ageTitles(152), xTitle: false
}), ageAll, fitAgeAll);

new ScatterPanel(svg, Object.assign({}, red, {
    letter: 'f', letterPos: [915, 312], left: 1018, right: 1332, top: 323, bottom: 536,
    xDomain: [1.354, 4.045], yDomain: [0.9, 203], log: true,
    xTicks: scoreTicksRead, yTicks: ageTicks, yLabels: ageTickLabels, xPad: 11, yPad: 8,
    pPos: [1029, 525], pText: pValues[5], yTitles: ageTitles(430), xTitle: true, xTitleShift: 0
}), ageRead, fitAgeRead);

// median age annotations
function medianNote(x, y, parts) {
    let t1 = svg.append('text').attr('x', x + 3).attr('y', y).attr('fill', RED).style('font-size', '17px');
    t1.append('tspan').text('Median age');
    t1.append('tspan').attr('dy', 4).style('font-size', '11px').text('100');
    t1.append('tspan').attr('dy', -4).text(' =');
    let t2 = svg.append('text').attr('x', x).attr('y', y + 22).attr('fill', RED).style('font-size', '17px');
    t2.append('tspan').text(parts[0]);
    t2.append('tspan').attr('dx', 2).style('font-family', '"DejaVu Sans", sans-serif').style('font-size', '15px').text('\u27F7');
    t2.append('tspan').attr('dx', 2).text(parts[1]);
}
medianNote(1040, 56, medianAll);
medianNote(1037, 331, medianRead);

</script>
</body>
</html>
